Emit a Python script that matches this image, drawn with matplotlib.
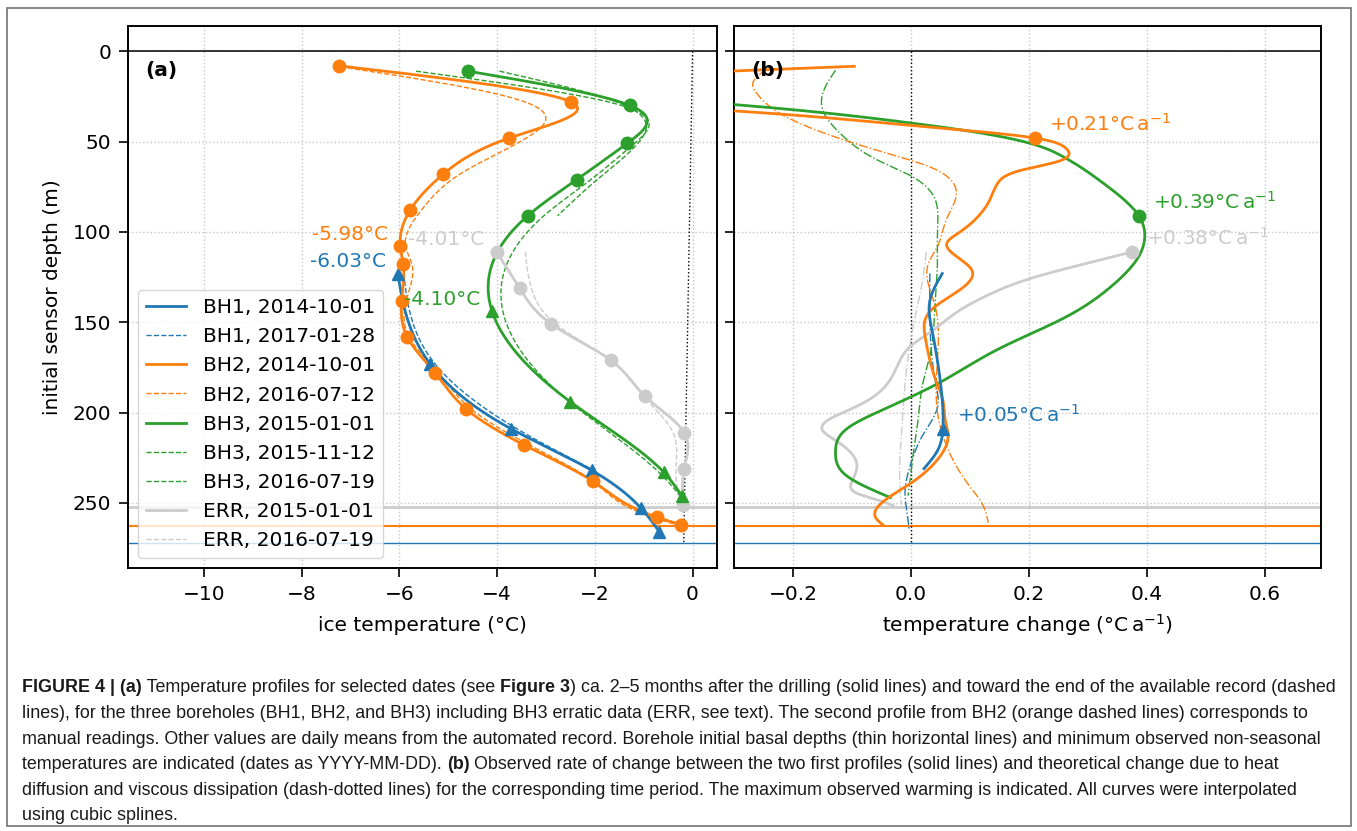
import numpy as np
import matplotlib
matplotlib.use('Agg')
import matplotlib.pyplot as plt
from matplotlib.patches import Rectangle

# ---- (a) temperature profiles: depth (m), temperature (degC) ----
bh1_depth = [123, 173, 209, 232, 253, 266]
bh1_temp = [-6.03, -5.37, -3.71, -2.06, -1.05, -0.68]
bh1_late_depth = [123, 173, 209, 232]
bh1_late_temp = [-5.91, -5.27, -3.59, -2.01]

bh2_depth = [8, 28, 48, 68, 88, 108, 118, 138, 158, 178, 198, 218, 238, 258, 262]
bh2_temp = [-7.24, -2.49, -3.75, -5.10, -5.78, -5.98, -5.92, -5.95, -5.84, -5.27,
            -4.63, -3.44, -2.04, -0.72, -0.24]
bh2_late_temp = [-7.35, -3.43, -3.40, -4.76, -5.55, -5.87, -5.74, -5.86, -5.80, -5.20,
                 -4.53, -3.33, -2.04, -0.82, -0.33]

bh3_top_depth = [11, 30, 51, 71, 91]
bh3_top_temp = [-4.59, -1.28, -1.34, -2.37, -3.37]
bh3_low_depth = [144, 194, 233, 246]
bh3_low_temp = [-4.10, -2.50, -0.59, -0.22]
bh3_nov_depth = [11, 30, 51, 71, 91, 144, 194, 233, 246]
bh3_nov_temp = [-5.66, -1.45, -1.19, -2.08, -3.04, -3.88, -2.52, -0.69, -0.25]
bh3_jul_depth = [11, 31, 51, 71, 91]
bh3_jul_temp = [-3.95, -1.30, -1.12, -1.95, -2.76]

err_depth = [111, 131, 151, 171, 191, 211, 231, 251]
err_temp = [-4.01, -3.54, -2.89, -1.67, -0.97, -0.17, -0.17, -0.20]
err_late_temp = [-3.42, -3.30, -2.80, -1.68, -1.00, -0.40, -0.34, -0.27]

melt_depth = [0, 272]
melt_temp = [0.0, -0.18]
base_depth = [252, 262.5, 272]       # ERR/BH3, BH2, BH1 initial basal depths

min_label = ['-5.98°C', '-6.03°C', '-4.01°C', '-4.10°C']
min_depth = [108, 123, 111, 144]
min_temp = [-5.98, -6.03, -4.01, -4.10]

# ---- (b) rate of change: depth (m), rate (degC/a) ----
obs_bh1_depth = [123, 138, 155, 176, 193, 209, 221, 231]
obs_bh1_rate = [0.053, 0.032, 0.036, 0.047, 0.053, 0.054, 0.045, 0.022]
obs_bh2_depth = [8.3, 11, 20, 33, 41, 48, 53.5, 57, 61, 66, 73, 82, 91, 100, 106, 113,
                 121, 132, 143, 158, 171, 182, 193, 204, 213, 226, 239, 247, 255, 259, 262]
obs_bh2_rate = [-0.096, -0.31, -0.8, -0.30, 0.0, 0.21, 0.262, 0.268, 0.249, 0.185, 0.147,
                0.134, 0.115, 0.083, 0.061, 0.075, 0.103, 0.083, 0.035, 0.024, 0.032,
                0.042, 0.054, 0.058, 0.063, 0.045, 0.0, -0.038, -0.061, -0.058, -0.048]
obs_bh3_depth = [11, 20, 29.5, 39.7, 43.4, 51.7, 58, 73, 91, 104, 113, 130, 147, 165,
                 184, 198, 209, 222, 235, 247]
obs_bh3_rate = [-1.25, -0.75, -0.30, 0.0, 0.083, 0.21, 0.256, 0.326, 0.386, 0.396, 0.387,
                0.34, 0.263, 0.147, 0.045, -0.045, -0.109, -0.128, -0.109, -0.035]
obs_err_depth = [111, 118, 126, 135, 145, 155, 163, 172, 180, 187, 197, 204, 209, 216,
                 228, 238, 245, 249, 251.5]
obs_err_rate = [0.375, 0.29, 0.20, 0.13, 0.075, 0.035, 0.0, -0.02, -0.032, -0.048, -0.095,
                -0.14, -0.151, -0.125, -0.092, -0.1, -0.089, -0.05, -0.03]

th_bh1_depth = [123, 147, 184, 197, 213, 228, 243, 257, 265]
th_bh1_rate = [0.032, 0.032, 0.042, 0.045, 0.019, 0.0, -0.01, -0.006, -0.003]
th_bh2_depth = [10, 17.5, 23, 34, 46, 56, 64, 71, 78, 93, 108, 117, 140, 170, 200, 222,
                241, 250, 261]
th_bh2_rate = [-0.245, -0.268, -0.262, -0.224, -0.141, -0.045, 0.032, 0.067, 0.077, 0.06,
               0.045, 0.03, 0.04, 0.045, 0.045, 0.065, 0.1, 0.12, 0.131]
th_bh3_depth = [10.5, 21, 32, 47, 60, 69, 80, 97, 115, 139, 167, 184, 204, 220, 241, 246]
th_bh3_rate = [-0.128, -0.147, -0.15, -0.115, -0.058, 0.0, 0.038, 0.045, 0.045, 0.041,
               0.033, 0.02, 0.012, 0.005, -0.003, -0.005]
th_err_depth = [111, 128, 150, 184, 211, 239, 251]
th_err_rate = [0.026, 0.019, 0.005, -0.01, -0.016, -0.019, -0.016]

max_label = ['+0.21°C$\\,\\mathrm{a}^{-1}$', '+0.39°C$\\,\\mathrm{a}^{-1}$',
             '+0.38°C$\\,\\mathrm{a}^{-1}$', '+0.05°C$\\,\\mathrm{a}^{-1}$']
max_depth = [48, 91, 111, 209]
max_rate = [0.21, 0.386, 0.375, 0.054]

caption = [
    [('FIGURE 4 | (a)', True), (' Temperature profiles for selected dates (see ', False), ('Figure 3', True),
     (') ca. 2–5 months after the drilling (solid lines) and toward the end of the available record (dashed', False)],
    [('lines), for the three boreholes (BH1, BH2, and BH3) including BH3 erratic data (ERR, see text). '
      'The second profile from BH2 (orange dashed lines) corresponds to', False)],
    [('manual readings. Other values are daily means from the automated record. Borehole initial basal '
      'depths (thin horizontal lines) and minimum observed non-seasonal', False)],
    [('temperatures are indicated (dates as YYYY-MM-DD). ', False), ('(b)', True),
     (' Observed rate of change between the two first profiles (solid lines) and theoretical change due to heat', False)],
    [('diffusion and viscous dissipation (dash-dotted lines) for the corresponding time period. '
      'The maximum observed warming is indicated. All curves were interpolated', False)],
    [('using cubic splines.', False)],
]

C1, C2, C3, CE = '#1f77b4', '#ff7f0e', '#2ca02c', '#cccccc'
FS = 14.5


def cspline(xk, yk, num=400):
    # natural cubic spline y(x), same as the figure's "cubic splines"
    xk = np.asarray(xk, float)
    yk = np.asarray(yk, float)
    n = len(xk)
    h = np.diff(xk)
    m = np.zeros(n)
    if n > 2:
        A = np.zeros((n - 2, n - 2))
        r = np.zeros(n - 2)
        for i in range(1, n - 1):
            A[i - 1, i - 1] = 2 * (h[i - 1] + h[i])
            if i > 1:
                A[i - 1, i - 2] = h[i - 1]
            if i < n - 2:
                A[i - 1, i] = h[i]
            r[i - 1] = 6 * ((yk[i + 1] - yk[i]) / h[i] - (yk[i] - yk[i - 1]) / h[i - 1])
        m[1:-1] = np.linalg.solve(A, r)
    xs = np.linspace(xk[0], xk[-1], num)
    k = np.clip(np.searchsorted(xk, xs) - 1, 0, n - 2)
    t1 = xk[k + 1] - xs
    t0 = xs - xk[k]
    hk = h[k]
    ys = (m[k] * t1 ** 3 + m[k + 1] * t0 ** 3) / (6 * hk) \
        + (yk[k] / hk - m[k] * hk / 6) * t1 + (yk[k + 1] / hk - m[k + 1] * hk / 6) * t0
    return xs, ys


def prof(ax, depth, val, **kw):
    d, v = cspline(depth, val)
    return ax.plot(v, d, **kw)


W, H = 1357, 831
plt.rcParams['font.family'] = 'DejaVu Sans'
plt.rcParams['font.size'] = FS
fig = plt.figure(figsize=(W / 100, H / 100), dpi=100)
ax1 = fig.add_axes([128 / W, 1 - 568 / H, 589 / W, 542 / H])
ax2 = fig.add_axes([734 / W, 1 - 568 / H, 587 / W, 542 / H], sharey=ax1)

for ax in (ax1, ax2):
    ax.set_axisbelow(True)
    ax.grid(True, ls=':', color='0.78', lw=1)
    ax.axhline(0, color='k', lw=1.1, zorder=1)
    for b, c, lw in zip(base_depth, [CE, C2, C1], [2.0, 1.5, 1.0]):
        ax.axhline(b, color=c, lw=lw, zorder=1.5)
    for s in ax.spines.values():
        s.set_linewidth(1.4)
    ax.tick_params(labelsize=FS, length=6.5, width=1.2, pad=5.5)

# ---- panel (a)
ax1.plot(melt_temp, melt_depth, color='k', ls=':', lw=1, zorder=1.6)
prof(ax1, bh1_depth, bh1_temp, color=C1, lw=2, label='BH1, 2014-10-01', zorder=3)
prof(ax1, bh1_late_depth, bh1_late_temp, color=C1, lw=1, ls='--', label='BH1, 2017-01-28', zorder=2.5)
prof(ax1, bh2_depth, bh2_temp, color=C2, lw=2, label='BH2, 2014-10-01', zorder=3)
prof(ax1, bh2_depth, bh2_late_temp, color=C2, lw=1, ls='--', label='BH2, 2016-07-12', zorder=2.5)
prof(ax1, bh3_top_depth + bh3_low_depth, bh3_top_temp + bh3_low_temp, color=C3, lw=2,
     label='BH3, 2015-01-01', zorder=3)
prof(ax1, bh3_nov_depth, bh3_nov_temp, color=C3, lw=1, ls='--', label='BH3, 2015-11-12', zorder=2.5)
prof(ax1, bh3_jul_depth, bh3_jul_temp, color=C3, lw=1, ls='--', label='BH3, 2016-07-19', zorder=2.5)
prof(ax1, err_depth, err_temp, color=CE, lw=2, label='ERR, 2015-01-01', zorder=2.8)
prof(ax1, err_depth, err_late_temp, color=CE, lw=1, ls='--', label='ERR, 2016-07-19', zorder=2.4)

ax1.plot(bh1_temp, bh1_depth, '^', color=C1, ms=9, zorder=4)
ax1.plot(bh2_temp, bh2_depth, 'o', color=C2, ms=9, zorder=4)
ax1.plot(bh3_top_temp, bh3_top_depth, 'o', color=C3, ms=9, zorder=4)
ax1.plot(bh3_low_temp, bh3_low_depth, '^', color=C3, ms=9, zorder=4)
ax1.plot(err_temp, err_depth, 'o', color=CE, ms=9, zorder=3.9)

for lab, d, t, c in zip(min_label, min_depth, min_temp, [C2, C1, CE, C3]):
    ax1.annotate(lab, (t, d), xytext=(-8.5, 2), textcoords='offset points',
                 ha='right', va='bottom', color=c, fontsize=FS, zorder=5)

ax1.text(0.03, 0.935, '(a)', transform=ax1.transAxes, fontweight='bold', va='top', fontsize=FS)
ax1.legend(loc='lower left', fontsize=FS, framealpha=0.8, edgecolor='0.8')
ax1.set_xlim(-11.55, 0.5)
ax1.set_ylim(286, -14)
ax1.set_xlabel('ice temperature (°C)', fontsize=FS, labelpad=9)
ax1.set_ylabel('initial sensor depth (m)', fontsize=FS, labelpad=8)

# ---- panel (b)
ax2.plot([0, 0], [0, 272], color='k', ls=':', lw=1, zorder=1.6)
prof(ax2, th_bh1_depth, th_bh1_rate, color=C1, lw=1, ls='-.', zorder=2.5)
prof(ax2, th_bh2_depth, th_bh2_rate, color=C2, lw=1, ls='-.', zorder=2.5)
prof(ax2, th_bh3_depth, th_bh3_rate, color=C3, lw=1, ls='-.', zorder=2.5)
prof(ax2, th_err_depth, th_err_rate, color=CE, lw=1, ls='-.', zorder=2.4)
prof(ax2, obs_err_depth, obs_err_rate, color=CE, lw=2, zorder=2.8)
prof(ax2, obs_bh3_depth, obs_bh3_rate, color=C3, lw=2, zorder=3)
prof(ax2, obs_bh2_depth, obs_bh2_rate, color=C2, lw=2, zorder=3)
prof(ax2, obs_bh1_depth, obs_bh1_rate, color=C1, lw=2, zorder=3.1)

for lab, d, r, c, m in zip(max_label, max_depth, max_rate, [C2, C3, CE, C1], ['o', 'o', 'o', '^']):
    ax2.plot([r], [d], m, color=c, ms=9, zorder=4)
    ax2.annotate(lab, (r, d), xytext=(10, 2), textcoords='offset points',
                 ha='left', va='bottom', color=c, fontsize=FS, zorder=5)

ax2.text(0.03, 0.935, '(b)', transform=ax2.transAxes, fontweight='bold', va='top', fontsize=FS)
ax2.set_xlim(-0.3, 0.695)
ax2.set_xticks([-0.2, 0.0, 0.2, 0.4, 0.6])
ax2.tick_params(labelleft=False)
ax2.set_xlabel('temperature change (°C$\\,\\mathrm{a}^{-1}$)', fontsize=FS, labelpad=6)

# ---- frame and caption
fig.add_artist(Rectangle((7 / W, 1 - 826 / H), 1344 / W, 818 / H, transform=fig.transFigure,
                         fill=False, edgecolor='0.45', lw=1.2))

renderer = fig.canvas.get_renderer()
line_y = [686, 711.6, 737.2, 762.8, 788.4, 814]
for parts, y in zip(caption, line_y):
    x = 22
    for txt, bold in parts:
        t = fig.text(x / W, 1 - y / H, txt, fontsize=12.85, family='Liberation Sans',
                     fontweight='bold' if bold else 'normal', color='#1a1a1a',
                     ha='left', va='center_baseline')
        x += t.get_window_extent(renderer).width

fig.savefig('out.png', dpi=100)
